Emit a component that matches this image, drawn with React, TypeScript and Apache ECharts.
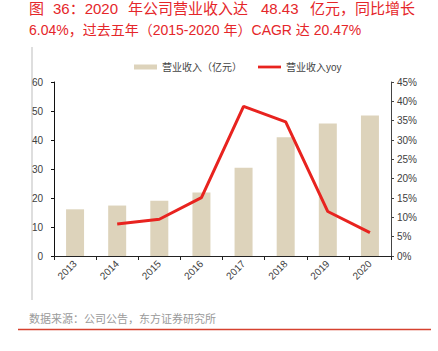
import React, { useEffect, useRef } from "react";
import * as echarts from "echarts";

const categories = ["2013", "2014", "2015", "2016", "2017", "2018", "2019", "2020"];
const revenue = [16.1, 17.4, 19.06, 21.9, 30.4, 40.96, 45.67, 48.43];
const revenueYoy = [null, 8.3, 9.5, 15.1, 38.7, 34.7, 11.5, 6.04];
const leftTicks = [0, 10, 20, 30, 40, 50, 60];
const rightTicks = [0, 5, 10, 15, 20, 25, 30, 35, 40, 45];

const barName = "营业收入（亿元）";
const lineName = "营业收入yoy";
const titleLine1: [string, number][] = [
  ["图", 29],
  ["36：2020", 53],
  ["年公司营业收入达", 128],
  ["48.43", 261],
  ["亿元，同比增长", 310],
];
const titleLine2 = "6.04%，过去五年（2015-2020 年）CAGR 达 20.47%";
const sourceText = "数据来源：公司公告，东方证券研究所";

const FONT = "'Liberation Sans', Arial, 'Noto Sans CJK SC', sans-serif";
const RED = "#e5262a";

export default function App() {
  const ref = useRef<HTMLDivElement>(null);
  useEffect(() => {
    if (!ref.current) return;
    const chart = echarts.init(ref.current, undefined, { renderer: "svg" });
    const title1 = titleLine1.map(([t, x]) => ({
      type: "text",
      left: x,
      top: 1,
      style: { text: t, fill: RED, font: `15px ${FONT}` },
    }));
    chart.setOption({
      animation: false,
      backgroundColor: "#ffffff",
      textStyle: { fontFamily: FONT },
      graphic: [
        ...title1,
        {
          type: "text",
          left: 29,
          top: 23,
          style: { text: titleLine2, fill: RED, font: `14px ${FONT}` },
        },
        {
          type: "line",
          shape: { x1: 32, y1: 47, x2: 32, y2: 300 },
          style: { stroke: "#bdbdbd", lineWidth: 1 },
        },
        {
          type: "text",
          left: 29,
          top: 313,
          style: { text: sourceText, fill: "#9a9a9a", font: `11px ${FONT}` },
        },
        {
          type: "line",
          shape: { x1: 18, y1: 329.5, x2: 431, y2: 329.5 },
          style: { stroke: "#d6412f", lineWidth: 1.5 },
        },
      ],
      legend: {
        left: 129,
        top: 57,
        itemWidth: 23,
        itemHeight: 5,
        itemGap: 16,
        textStyle: { fontSize: 10, color: "#444", fontFamily: FONT },
        data: [
          { name: barName, icon: "rect" },
          { name: lineName, icon: "path://M0,0h25v3h-25z" },
        ],
      },
      grid: { left: 54, right: 47, top: 82, bottom: 95, containLabel: false },
      xAxis: {
        type: "category",
        data: categories,
        axisLine: { lineStyle: { color: "#222", width: 1 } },
        axisTick: { show: true, length: 4, alignWithLabel: false, lineStyle: { color: "#222" } },
        axisLabel: { rotate: 45, fontSize: 10, color: "#404040", margin: 6, fontFamily: FONT },
      },
      yAxis: [
        {
          type: "value",
          min: leftTicks[0],
          max: leftTicks[leftTicks.length - 1],
          interval: 10,
          axisLine: { show: true, lineStyle: { color: "#111", width: 1 } },
          axisTick: { show: true, length: 3, lineStyle: { color: "#111" } },
          axisLabel: { fontSize: 10, color: "#404040", margin: 11, fontFamily: FONT },
          splitLine: { show: false },
        },
        {
          type: "value",
          position: "right",
          min: rightTicks[0],
          max: rightTicks[rightTicks.length - 1],
          interval: 5,
          axisLine: { show: true, lineStyle: { color: "#444", width: 1 } },
          axisTick: { show: true, length: 3, lineStyle: { color: "#444" } },
          axisLabel: { fontSize: 10, color: "#404040", margin: 6, formatter: "{value}%", fontFamily: FONT },
          splitLine: { show: false },
        },
      ],
      series: [
        {
          name: barName,
          type: "bar",
          data: revenue,
          barWidth: 18,
          itemStyle: { color: "#ddd3bb" },
        },
        {
          name: lineName,
          type: "line",
          yAxisIndex: 1,
          data: revenueYoy,
          symbol: "none",
          lineStyle: { color: "#e8231f", width: 3 },
          itemStyle: { color: "#e8231f" },
        },
      ],
    });
    return () => chart.dispose();
  }, []);
  return (
    <div
      ref={ref}
      style={{ position: "fixed", left: 0, top: 0, width: 438, height: 351, background: "#fff" }}
    />
  );
}
